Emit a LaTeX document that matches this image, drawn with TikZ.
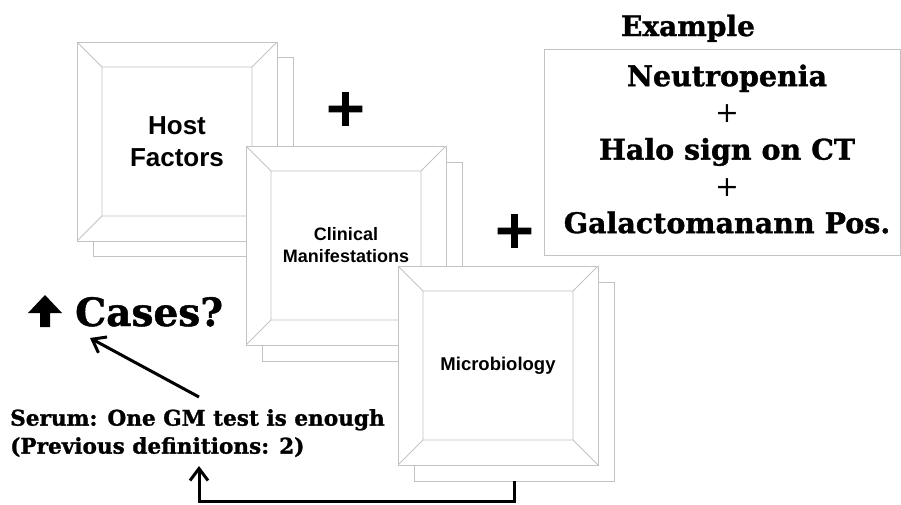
\documentclass[tikz,border=0pt]{standalone}
\usepackage{fontspec}
\usetikzlibrary{arrows.meta,calc}
\newfontfamily\sansf{Liberation Sans}
\newfontfamily\seriff[BoldFeatures={FakeBold=1.2}]{DejaVu Serif}
\newfontfamily\plusf[FakeBold=5]{DejaVu Sans}
\definecolor{bgray}{RGB}{195,195,195}
\begin{document}
\begin{tikzpicture}[x=1pt,y=-1pt,
  shadowbox/.style={draw=bgray, line width=0.8pt, fill=white, minimum width=200pt, minimum height=199pt, inner sep=0pt},
  bevel/.style={shadowbox, align=center,
    path picture={
      \draw[bgray, line width=0.8pt]
        ($(path picture bounding box.north west)+(25,25)$) rectangle ($(path picture bounding box.south east)+(-25,-25)$)
        (path picture bounding box.north west) -- ++(25,25)
        (path picture bounding box.north east) -- ++(-25,25)
        (path picture bounding box.south west) -- ++(25,-25)
        (path picture bounding box.south east) -- ++(-25,-25);
    }},
  bigplus/.style={inner sep=0pt, font=\plusf\fontsize{50}{50}\selectfont},
  arrowline/.style={line width=3pt, -{Straight Barb[length=12pt,width=18pt]}},
]
\useasboundingbox (0,0) rectangle (901,504);
\fill[white] (0,0) rectangle (901,504);

% Host factors
\node[shadowbox] (hostback) at (193,157) {};
\node[bevel, font=\sansf\bfseries\fontsize{26}{32}\selectfont] (host) at (177,141.5) {Host\\Factors};
% Clinical
\node[shadowbox] (clinback) at (362,261.5) {};
\node[bevel, font=\sansf\bfseries\fontsize{18}{22}\selectfont] (clin) at (346,245.5) {Clinical\\Manifestations};
% Microbiology
\node[shadowbox] (microback) at (514,381.5) {};
\node[bevel, font=\sansf\bfseries\fontsize{18.5}{22}\selectfont] (micro) at (498,365.5) {Microbiology};

% plus signs
\node[bigplus] (plus1) at (345.5,109) {+};
\node[bigplus] (plus2) at (514.5,231) {+};

% Example
\node[anchor=base, font=\seriff\bfseries\fontsize{28}{34}\selectfont] (extitle) at (688,36) {Example};
\node[draw=bgray, line width=0.8pt, minimum width=356pt, minimum height=206pt, inner sep=0pt] (exbox) at (722,152) {};
\node[align=center, inner sep=0pt, font=\seriff\bfseries\fontsize{28.5}{36.75}\selectfont] (exlist) at (727,149)
  {Neutropenia\\{\mdseries +}\\Halo sign on CT\\{\mdseries +}\\Galactomanann Pos.};

% Cases
\fill (28,313) -- (45,295) -- (62,313) -- (50,313) -- (50,327) -- (40,327) -- (40,313) -- cycle;
\node[anchor=base west, inner sep=0pt, font=\seriff\bfseries\fontsize{39}{44}\selectfont] (cases) at (75,326) {Cases?};

% Serum
\node[anchor=north west, align=left, inner sep=0pt, font=\seriff\bfseries\fontsize{21.6}{28}\selectfont] (serum) at (10,409)
  {Serum: One GM test is enough\\(Previous definitions: 2)};

% connectors
\coordinate (casestip) at (90,338);
\coordinate (serumtail) at (199,397);
\coordinate (serumup) at (199,466);
\draw[arrowline] (serumtail) -- (casestip);
\draw[arrowline] (microback.south) -- ++(0,20.5) -| (serumup);
\end{tikzpicture}
\end{document}
